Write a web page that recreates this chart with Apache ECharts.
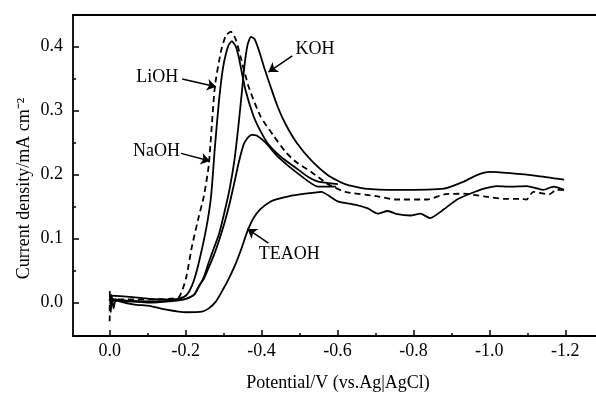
<!DOCTYPE html>
<html><head><meta charset="utf-8">
<script src="https://cdn.jsdelivr.net/npm/echarts@6/dist/echarts.min.js"></script>
<style>html,body{margin:0;padding:0;background:#fff}#c{width:596px;height:397px}</style>
</head><body><div id="c"></div>
<script>
// Potential (V vs Ag|AgCl) and current density (mA cm-2)
const liohE = [0,0,-0.052,-0.105,-0.157,-0.183,-0.201,-0.217,-0.235,-0.248,-0.261,-0.277,-0.293,-0.306,-0.319,-0.332,-0.345,-0.366,-0.397,-0.431,-0.465,-0.492,-0.531,-0.575,-0.620,-0.706,-0.750,-0.837,-0.881,-0.933,-0.986,-1.038,-1.080,-1.098,-1.116,-1.158,-1.176,-1.197];
const liohJ = [-0.029,0.005,0.005,0.005,0.006,0.009,0.038,0.089,0.135,0.166,0.215,0.337,0.392,0.417,0.423,0.411,0.383,0.337,0.291,0.261,0.234,0.219,0.204,0.185,0.173,0.166,0.161,0.161,0.169,0.170,0.166,0.162,0.162,0.161,0.173,0.169,0.176,0.176];

const naohE = [0,-0.052,-0.105,-0.157,-0.196,-0.209,-0.222,-0.235,-0.254,-0.267,-0.277,-0.288,-0.298,-0.306,-0.314,-0.322,-0.332,-0.340,-0.358,-0.379,-0.397,-0.418,-0.452,-0.489,-0.523,-0.549,-0.601];
const naohJ = [0.006,0.003,0.002,0.003,0.009,0.017,0.035,0.063,0.115,0.166,0.242,0.316,0.365,0.388,0.403,0.408,0.400,0.383,0.331,0.291,0.268,0.247,0.227,0.211,0.196,0.189,0.185];

const kohE = [0,-0.052,-0.105,-0.157,-0.196,-0.222,-0.235,-0.248,-0.261,-0.275,-0.288,-0.303,-0.316,-0.328,-0.338,-0.347,-0.355,-0.363,-0.372,-0.382,-0.394,-0.408,-0.425,-0.443,-0.462,-0.492,-0.531,-0.575,-0.620,-0.672,-0.758,-0.881,-0.933,-0.967,-1.001,-1.054,-1.124,-1.197];
const kohJ = [0.011,0.009,0.006,0.005,0.005,0.012,0.025,0.040,0.063,0.086,0.107,0.143,0.178,0.220,0.270,0.322,0.370,0.402,0.415,0.411,0.392,0.365,0.335,0.305,0.280,0.250,0.222,0.199,0.185,0.178,0.176,0.178,0.189,0.199,0.204,0.202,0.198,0.192];

const mixE = [0,-0.052,-0.105,-0.157,-0.196,-0.222,-0.235,-0.248,-0.261,-0.275,-0.288,-0.303,-0.316,-0.329,-0.340,-0.353,-0.363,-0.374,-0.387,-0.410,-0.444,-0.497,-0.549,-0.596];
const mixJ = [0.003,0.002,0.000,0.002,0.005,0.012,0.026,0.037,0.055,0.075,0.097,0.126,0.155,0.189,0.219,0.247,0.257,0.262,0.261,0.250,0.227,0.201,0.181,0.181];

const teaohE = [0,-0.003,-0.005,-0.010,-0.016,-0.026,-0.065,-0.105,-0.149,-0.201,-0.243,-0.261,-0.280,-0.298,-0.314,-0.332,-0.348,-0.363,-0.379,-0.397,-0.424,-0.444,-0.471,-0.515,-0.557,-0.601,-0.646,-0.680,-0.706,-0.732,-0.758,-0.792,-0.818,-0.844,-0.881,-0.915,-0.949,-0.986,-1.020,-1.054,-1.098,-1.142,-1.169,-1.197];
const teaohJ = [0.018,-0.015,0.012,-0.009,0.005,0.002,-0.003,-0.005,-0.011,-0.015,-0.014,-0.009,0.002,0.020,0.038,0.061,0.086,0.112,0.132,0.146,0.158,0.162,0.166,0.170,0.173,0.158,0.153,0.147,0.139,0.143,0.138,0.136,0.139,0.132,0.146,0.161,0.170,0.178,0.182,0.181,0.182,0.176,0.181,0.176];

const xMajorTicks = [0,-0.2,-0.4,-0.6,-0.8,-1.0,-1.2];
const xMinorTicks = [-0.1,-0.3,-0.5,-0.7,-0.9,-1.1];
const yMajorTicks = [0,0.1,0.2,0.3,0.4];
const yMinorTicks = [0.05,0.15,0.25,0.35];

const annoNames = ['LiOH','KOH','NaOH','TEAOH'];
const annoText = [[-0.125,0.352],[-0.541,0.395],[-0.123,0.236],[-0.473,0.075]];
const annoFrom = [[-0.191,0.349],[-0.481,0.385],[-0.188,0.233],[-0.418,0.093]];
const annoTo = [[-0.280,0.337],[-0.418,0.360],[-0.264,0.221],[-0.363,0.115]];

const FONT = '"Liberation Serif","Times New Roman",serif';
const zip = (a,b) => a.map((v,i)=>[v,b[i]]);

const chart = echarts.init(document.getElementById('c'), null, {renderer:'canvas'});

function lineSeries(name, e, j, dashed){
  return {
    name, type:'line', data: zip(e,j), showSymbol:false, smooth:0.2,
    xAxisIndex:0, yAxisIndex:0, animation:false, silent:true,
    itemStyle:{color:'#000'},
    lineStyle:{color:'#000', width:1.8, type: dashed ? [6,4] : 'solid'}
  };
}

const series = [
  lineSeries('LiOH', liohE, liohJ, true),
  lineSeries('NaOH', naohE, naohJ, false),
  lineSeries('KOH', kohE, kohJ, false),
  lineSeries('NaOH-2', mixE, mixJ, false),
  lineSeries('TEAOH', teaohE, teaohJ, false)
];
series[4].markPoint = {
  silent:true, symbol:'circle', symbolSize:1, itemStyle:{color:'rgba(0,0,0,0)'},
  label:{show:true, position:'inside', color:'#000', fontSize:18, fontFamily:FONT, formatter: p => p.name},
  data: annoNames.map((n,i)=>({name:n, coord:annoText[i]}))
};
series[4].markLine = {
  silent:true, symbol:['none','arrow'], symbolSize:9,
  label:{show:false}, itemStyle:{color:'#000'},
  lineStyle:{color:'#000', width:1.5, type:'solid'},
  data: annoNames.map((n,i)=>[{coord:annoFrom[i]},{coord:annoTo[i]}])
};

const axisCommonX = {
  type:'value', inverse:true, min:-1.281, max:0.0967, splitLine:{show:false}
};
const axisCommonY = {
  type:'value', min:-0.0521, max:0.449, position:'left', splitLine:{show:false}
};

chart.setOption({
  animation:false,
  backgroundColor:'#fff',
  grid:{left:73, right:-4, top:15, bottom:55, show:false},
  xAxis:[
    Object.assign({}, axisCommonX, {
      position:'bottom',
      name:'Potential/V (vs.Ag|AgCl)', nameLocation:'middle', nameGap:38, nameMoveOverlap:false,
      nameTextStyle:{color:'#000', fontSize:18, fontFamily:FONT, padding:[0,0,0,7]},
      axisLine:{show:true, onZero:false, lineStyle:{color:'#000', width:1.8}},
      axisTick:{show:true, inside:true, length:6, customValues:xMajorTicks, lineStyle:{color:'#000', width:1.5}},
      axisLabel:{show:true, customValues:xMajorTicks, margin:6, color:'#000', fontSize:18, fontFamily:FONT,
        formatter: v => (Math.abs(v)<1e-9 ? 0 : v).toFixed(1)}
    }),
    Object.assign({}, axisCommonX, {
      position:'bottom',
      axisLine:{show:false, onZero:false},
      axisTick:{show:true, inside:true, length:3, customValues:xMinorTicks, lineStyle:{color:'#000', width:1.5}},
      axisLabel:{show:false}
    }),
    Object.assign({}, axisCommonX, {
      position:'top',
      axisLine:{show:true, onZero:false, lineStyle:{color:'#000', width:1.8}},
      axisTick:{show:false},
      axisLabel:{show:false}
    })
  ],
  yAxis:[
    Object.assign({}, axisCommonY, {
      name:'Current density/mA cm\u207B\u00B2', nameLocation:'middle', nameGap:40, nameRotate:90, nameMoveOverlap:false,
      nameTextStyle:{color:'#000', fontSize:18, fontFamily:FONT, padding:[0,26,0,0]},
      axisLine:{show:true, onZero:false, lineStyle:{color:'#000', width:1.8}},
      axisTick:{show:true, inside:true, length:6, customValues:yMajorTicks, lineStyle:{color:'#000', width:1.5}},
      axisLabel:{show:true, customValues:yMajorTicks, margin:10, color:'#000', fontSize:18, fontFamily:FONT,
        formatter: v => v.toFixed(1)}
    }),
    Object.assign({}, axisCommonY, {
      axisLine:{show:false, onZero:false},
      axisTick:{show:true, inside:true, length:3, customValues:yMinorTicks, lineStyle:{color:'#000', width:1.5}},
      axisLabel:{show:false}
    })
  ],
  series
});
</script>
</body></html>
